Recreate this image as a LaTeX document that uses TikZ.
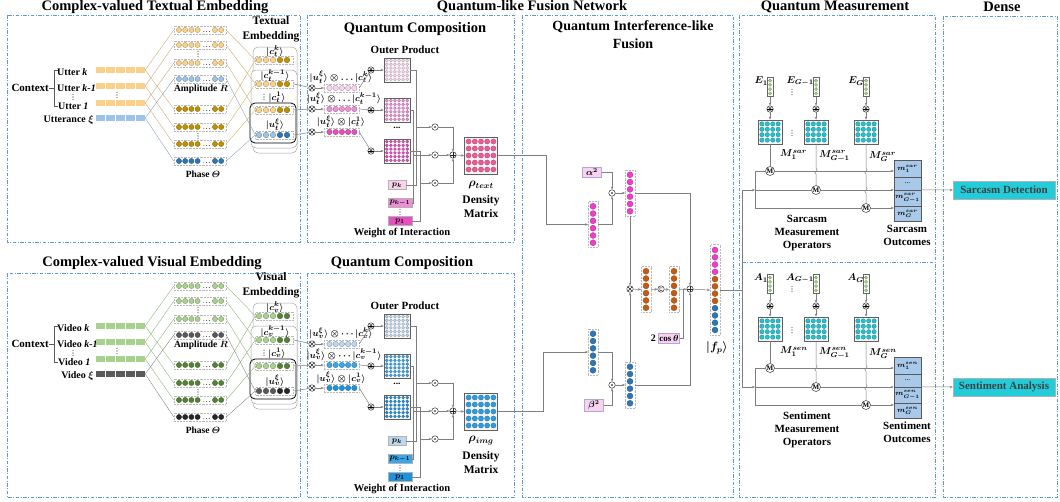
\documentclass[tikz,border=0pt]{standalone}
\usepackage{amsmath}
\usepackage{fontspec}
\setmainfont{Liberation Serif}
\usetikzlibrary{arrows.meta}
\definecolor{frm}{HTML}{5B9BD5}
\definecolor{lnk}{HTML}{7F7F7F}
\definecolor{tL}{HTML}{FBD089}
\definecolor{tX}{HTML}{9DC3E6}
\definecolor{tP}{HTML}{BF9000}
\definecolor{tQ}{HTML}{2E75B6}
\definecolor{vL}{HTML}{A9D18E}
\definecolor{vX}{HTML}{595959}
\definecolor{vP}{HTML}{548235}
\definecolor{vQ}{HTML}{262626}
\definecolor{tc1}{HTML}{FAD4EE}
\definecolor{tc2}{HTML}{EE8FD6}
\definecolor{tc3}{HTML}{E64FBE}
\definecolor{tcm}{HTML}{EE5A92}
\definecolor{vc1}{HTML}{BDD7EE}
\definecolor{vc2}{HTML}{3AA6E8}
\definecolor{vc3}{HTML}{1E93DB}
\definecolor{vcm}{HTML}{2E9BE0}
\definecolor{mag}{HTML}{F03CC8}
\definecolor{orn}{HTML}{C55A11}
\definecolor{bluD}{HTML}{2E75B6}
\definecolor{grnL}{HTML}{A9D18E}
\definecolor{grnD}{HTML}{548235}
\definecolor{cyn}{HTML}{1FC3CE}
\definecolor{outc}{HTML}{A9C9EA}
\definecolor{dns}{HTML}{22CCD8}
\definecolor{wbox}{HTML}{F8D3EE}
\definecolor{lav}{HTML}{B4A7D6}

\newcommand\mkVd[2]{%
  \foreach \k in {-2.6,0,2.6}{\fill[black!85] (#1,{#2+\k}) circle (0.55);}%
}
\newcommand\mkBar[3]{%
  \node[fill=#3, inner sep=0pt, minimum width=49, minimum height=5.5] (#1) at (120.5,#2) {};
  \foreach \k in {1,...,4}{\draw[white, line width=0.9pt] ({96+\k*9.8},{#2-2.75}) -- ({96+\k*9.8},{#2+2.75});}%
}
\newcommand\mkRow[3]{%
  \node[dotbox, minimum width=52, minimum height=7.5] (#1) at (200,#2) {};
  \foreach \k in {179,185.2,191.4,197.6,215,221.2}{\path[fill=#3, draw=#3!65!black, line width=0.3pt] (\k,#2) circle (2.6);}%
  \foreach \k in {203.8,206.6,209.4}{\fill[black!75] (\k,{#2+1.5}) circle (0.45);}%
}
\newcommand\mkSvec[4]{%
  \node[dotbox, minimum width=38, minimum height=7.5] (#1) at (274.5,#2) {};
  \foreach \k in {259,266,273}{\path[fill=#3, draw=#3!65!black, line width=0.3pt] (\k,#2) circle (2.8);}%
  \foreach \k in {280,287}{\path[fill=#4, draw=#4!65!black, line width=0.3pt] (\k,#2) circle (2.8);}%
}
\newcommand\mkQvec[3]{%
  \node[dotbox, minimum width=35, minimum height=7.5] (#1) at (341.5,#2) {};
  \foreach \k in {0,...,4}{\path[fill=#3, draw=#3!65!black, line width=0.3pt] ({329.5+6.2*\k},#2) circle (2.7);}%
}
\newcommand\mkQmat[3]{%
  \node[matbox, minimum width=26, minimum height=24] (#1) at (397,#2) {};
  \foreach \i in {0,...,5}{\foreach \j in {0,...,5}{\path[fill=#3, draw=#3!65!black, line width=0.2pt] ({386.75+\i*4.1},{#2-9.4+\j*3.75}) circle (1.5);}}%
}
\newcommand\mkDmat[4]{%
  \node[matbox, minimum width=33, minimum height=37] (#1) at (#2,#3) {};
  \foreach \i in {0,...,4}{\foreach \j in {0,...,4}{\path[fill=#4, draw=#4!70!black, line width=0.25pt] ({#2-12.4+\i*6.2},{#3-14+\j*7}) circle (2.6);}}%
}
\newcommand\mkVcol[4]{%
  \node[dotbox, minimum width=9.5, minimum height=46] (#1) at (#2,#3) {};
  \foreach \k in {0,...,5}{\path[fill=#4, draw=#4!70!black, line width=0.25pt] (#2,{#3-18.25+\k*7.3}) circle (3);}%
}
\newcommand\mkEvec[3]{%
  \node[draw=gray!80!black, fill=white, line width=0.5pt, inner sep=0pt, minimum width=6.5, minimum height=19] (#1) at (#2,#3) {};
  \foreach \k in {0,...,3}{\path[fill=grnL, draw=grnD, line width=0.2pt] (#2,{#3-6.3+\k*4.2}) circle (1.6);}%
}
\newcommand\mkMmat[3]{%
  \node[matbox, minimum width=24, minimum height=24] (#1) at (#2,#3) {};
  \foreach \i in {0,...,3}{\foreach \j in {0,...,3}{\path[fill=cyn, draw=cyn!60!black, line width=0.2pt] ({#2-8.1+\i*5.4},{#3-8.1+\j*5.4}) circle (2.2);}}%
}

\newcommand\EmbBlock[5]{%
\begin{scope}[shift={(0,#2)}]
 \node[lbl11, anchor=east] (#1ctx) at (49,88) {Context};
 \draw[brk] (#1ctx.east) -- ++(5,0);
 \draw[brk] (57.5,70) -- (54,70) -- (54,106) -- (57.5,106);
 \node[lbl, anchor=west] (#1u1) at (57,72) {#3 \textit{k}};
 \node[lbl, anchor=west] (#1u2) at (57,88) {#3 \textit{k-1}};
 \mkVd{73}{97}
 \node[lbl, anchor=west] (#1u3) at (58,106) {#3 \textit{1}};
 \node[lbl, anchor=east] (#1ux) at (94,120) {#4 $\xi$};
 \mkBar{#1b1}{70}{#1L}
 \mkBar{#1b2}{86}{#1L}
 \mkBar{#1b3}{103}{#1L}
 \mkBar{#1bx}{118}{#1X}
 \mkVd{117}{95}
 \mkRow{#1a1}{30}{#1L}
 \mkRow{#1a2}{45}{#1L}
 \mkRow{#1a3}{63}{#1L}
 \mkRow{#1a4}{79}{#1X}
 \mkRow{#1h1}{109}{#1P}
 \mkRow{#1h2}{127}{#1P}
 \mkRow{#1h3}{144}{#1P}
 \mkRow{#1h4}{161}{#1Q}
 \mkVd{198}{54}
 \mkVd{198}{136}
 \node[lbl9] (#1amp) at (201,89) {Amplitude $R$};
 \node[lbl9] (#1ph) at (203,174) {Phase $\varTheta$};
 \node[stk, minimum width=44, minimum height=106] (#1st1) at (275,100) {};
 \node[stk, minimum width=46, minimum height=78] (#1st2) at (274,109) {};
 \node[stk, draw=black, line width=0.8pt, minimum width=46, minimum height=40] (#1st3) at (273,123) {};
 \mkSvec{#1s1}{60}{#1L}{#1P}
 \mkSvec{#1s2}{84}{#1L}{#1P}
 \mkSvec{#1s3}{110}{#1L}{#1P}
 \mkSvec{#1s4}{135}{#1X}{#1Q}
 \node[mlab] (#1l1) at (275,51.5) {$|c_#1^k\rangle$};
 \node[mlab] (#1l2) at (275,75.5) {$|c_#1^{k-1}\rangle$};
 \mkVd{264}{97}
 \node[mlab] (#1l3) at (277,97) {$|c_#1^1\rangle$};
 \node[mlab] (#1l4) at (275,124.5) {$|u_#1^\xi\rangle$};
 \node[sttl, align=center] (#1stt) at (271,29) {#5\\Embedding};
 \foreach \i in {1,2,3}{%
   \draw[#1ln] (#1b\i.east) -- (#1a\i.west);
   \draw[#1ln] (#1b\i.east) -- (#1h\i.west);
   \draw[#1ln] (#1a\i.east) -- (#1s\i.west);
   \draw[#1ln2] (#1h\i.east) -- (#1s\i.west);}
 \draw[#1lnx] (#1bx.east) -- (#1a4.west);
 \draw[#1lnx] (#1bx.east) -- (#1h4.west);
 \draw[#1lnx] (#1a4.east) -- (#1s4.west);
 \draw[#1lnx] (#1h4.east) -- (#1s4.west);
\end{scope}}

\newcommand\QCBlock[4]{%
\begin{scope}[shift={(0,#2)}]
 \node[lbl11] (#1op) at (405,50) {Outer Product};
 \node[opx] (#1x1) at (312,88) {};
 \node[opx] (#1x2) at (312,109) {};
 \node[opx] (#1x3) at (312,132) {};
 \node[mlab] (#1lx1) at (341,77) {$|u_#1^\xi\rangle\otimes#4|c_#1^k\rangle$};
 \node[mlab] (#1lx2) at (344,98.5) {$|u_#1^\xi\rangle\otimes#4|c_#1^{k-1}\rangle$};
 \node[mlab] (#1lx3) at (341,121.5) {$|u_#1^\xi\rangle\otimes|c_#1^1\rangle$};
 \mkQvec{#1q1}{88}{#1c1}
 \mkQvec{#1q2}{109}{#1c2}
 \mkQvec{#1q3}{132}{#1c3}
 \node[ops] (#1o1) at (371,70) {};
 \node[ops] (#1o2) at (371,110) {};
 \node[ops] (#1o3) at (371,151) {};
 \mkQmat{#1m1}{70}{#1c1}
 \mkQmat{#1m2}{110}{#1c2}
 \mkQmat{#1m3}{151}{#1c3}
 \node[lbl9] (#1md) at (397,128) {...};
 \node[pbox, fill=#1c1, minimum width=18] (#1p1) at (397,185) {$p_k$};
 \node[pbox, fill=#1c2, minimum width=24] (#1p2) at (400,203) {$p_{k-1}$};
 \mkVd{400}{212}
 \node[pbox, fill=#1c3, minimum width=24] (#1p3) at (400,221) {$p_1$};
 \node[lbl105] (#1wi) at (402,233) {Weight of Interaction};
 \node[opd] (#1d1) at (435,127) {};
 \node[opd] (#1d2) at (435,155) {};
 \node[opd] (#1d3) at (435,183) {};
 \node[opp] (#1pl) at (453,155) {};
 \mkDmat{#1rho}{481}{155.5}{#1cm}
 \node[rlab] (#1rl) at (481,185) {$\rho_{#3}$};
 \node[lbl115, align=center] (#1dl) at (481,206.5) {Density\\Matrix};
 \coordinate (#1j1) at (416,127);
 \coordinate (#1j2) at (413,155);
 \coordinate (#1j3) at (420,183);
 \draw[arr] (#1x1) -- (#1q1.west);
 \draw[arr] (#1x2) -- (#1q2.west);
 \draw[arr] (#1x3) -- (#1q3.west);
 \draw[conn] (#1q1.east) -- (#1o1);
 \draw[conn] (#1q2.east) -- (#1o2);
 \draw[conn] (#1q3.east) -- (#1o3);
 \draw[arr] (#1o1) -- (#1m1.west);
 \draw[arr] (#1o2) -- (#1m2.west);
 \draw[arr] (#1o3) -- (#1m3.west);
 \draw[conn] (#1m1.east) -- (#1m1.east -| #1j1) |- (#1p1.east);
 \draw[conn] (#1m2.east) -- (#1m2.east -| #1j2) |- (#1p2.east);
 \draw[conn] (#1m3.east) -- (#1m3.east -| #1j3) |- (#1p3.east);
 \draw[arr] (#1j1) -- (#1d1);
 \draw[arr] (#1j2) -- (#1d2);
 \draw[arr] (#1j3) -- (#1d3);
 \draw[arr] (#1d1) -| (#1pl);
 \draw[arr] (#1d3) -| (#1pl);
 \draw[arr] (#1d2) -- (#1pl);
 \draw[arr] (#1pl) -- (#1rho.west);
\end{scope}}

\newcommand\MBlock[6]{%
\begin{scope}[shift={(0,#2)}]
 \mkEvec{#1e1}{770}{87}
 \mkEvec{#1e2}{816}{87}
 \mkEvec{#1e3}{866}{87}
 \node[mlab10, anchor=east] (#1el1) at (768,81) {$#3_1$};
 \node[mlab10, anchor=east] (#1el2) at (814,81) {$#3_{G-1}$};
 \node[mlab10, anchor=east] (#1el3) at (864,81) {$#3_G$};
 \mkVd{792}{92}
 \node[ops] (#1a1) at (770,109) {};
 \node[ops] (#1a2) at (816,109) {};
 \node[ops] (#1a3) at (866,109) {};
 \mkMmat{#1M1}{770}{132}
 \mkMmat{#1M2}{816}{132}
 \mkMmat{#1M3}{866}{132}
 \mkVd{792}{133}
 \node[mlab10, anchor=west] (#1ml1) at (780,155) {$M_1^{#4}$};
 \node[mlab10, anchor=west] (#1ml2) at (819,156) {$M_{G-1}^{#4}$};
 \node[mlab10, anchor=west] (#1ml3) at (869,157) {$M_G^{#4}$};
 \node[opm] (#1c1) at (770,171) {M};
 \node[opm] (#1c2) at (816,190) {M};
 \node[opm] (#1c3) at (866,208) {M};
 \node[ocell, minimum height=17] (#1o1) at (907.5,168.5) {$m_1^{#4}$};
 \node[ocell, minimum height=13] (#1o2) at (907.5,183.5) {...};
 \node[ocell, minimum height=16] (#1o3) at (907.5,198) {$m_{G-1}^{#4}$};
 \node[ocell, minimum height=15] (#1o4) at (907.5,213.5) {$m_G^{#4}$};
 \coordinate (#1t0) at (742,190);
 \coordinate (#1t1) at (755,171);
 \coordinate (#1t2) at (755,190);
 \coordinate (#1t3) at (755,208);
 \draw[arr] (#1e1) -- (#1a1);
 \draw[arr] (#1e2) -- (#1a2);
 \draw[arr] (#1e3) -- (#1a3);
 \draw[arr] (#1a1) -- (#1M1);
 \draw[arr] (#1a2) -- (#1M2);
 \draw[arr] (#1a3) -- (#1M3);
 \draw[conn] (#1M1) -- (#1c1);
 \draw[conn] (#1M2.south) -- (816,168) .. controls (820,169.5) and (812,172.5) .. (816,174) -- (#1c2);
 \draw[conn] (#1M3.south) -- (866,168) .. controls (870,169.5) and (862,172.5) .. (866,174) -- (866,187) .. controls (870,188.5) and (862,191.5) .. (866,193) -- (#1c3);
 \draw[arr] (#1t0) -- (#1t2);
 \draw[conn] (#1t1) -- (#1t3);
 \draw[conn] (#1t1) -- (#1c1);
 \draw[conn] (#1t2) -- (#1c2);
 \draw[conn] (#1t3) -- (#1c3);
 \draw[arr] (#1c1) -- (#1c1 -| #1o1.west);
 \draw[arr] (#1c2) -- (#1c2 -| #1o3.west);
 \draw[arr] (#1c3) -- (#1c3 -| #1o4.west);
 \node[lbl11, align=center] (#1mo) at (807,233) {#5\\Measurement\\Operators};
 \node[lbl11, align=center] (#1oc) at (907,235.5) {#5\\Outcomes};
 \node[dbox] (#1res) at (1004,190) {#6};
 \draw[arr] (#1o3.north east) -- (#1res.west);
\end{scope}}

\begin{document}
\begin{tikzpicture}[x=1pt,y=-1pt,
  dframe/.style={draw=frm, line width=0.7pt, dash pattern=on 3.5pt off 1.5pt on 1pt off 1.5pt},
  conn/.style={draw=lnk, line width=0.5pt},
  arr/.style={conn, -{Stealth[length=3pt,width=2.4pt]}},
  brk/.style={draw=gray!70!black, line width=0.5pt},
  dotbox/.style={rectangle, draw=gray!55, densely dotted, line width=0.45pt, inner sep=0pt},
  matbox/.style={rectangle, draw=gray!75!black, fill=gray!8, line width=0.7pt, inner sep=0pt},
  stk/.style={rectangle, draw=gray!70, fill=white, rounded corners=5pt, line width=0.5pt, inner sep=0pt},
  ttl/.style={font=\bfseries\fontsize{14.5}{16}\selectfont, inner sep=0pt},
  lbl/.style={font=\bfseries\boldmath\fontsize{10}{12}\selectfont, inner sep=0pt},
  lbl9/.style={font=\bfseries\boldmath\fontsize{9.5}{11}\selectfont, inner sep=0pt},
  lbl105/.style={font=\bfseries\boldmath\fontsize{10.5}{12}\selectfont, inner sep=0pt},
  lbl11/.style={font=\bfseries\boldmath\fontsize{11}{13}\selectfont, inner sep=0pt},
  lbl115/.style={font=\bfseries\boldmath\fontsize{11.5}{13.5}\selectfont, inner sep=0pt},
  sttl/.style={font=\bfseries\fontsize{11.5}{15}\selectfont, inner sep=0pt},
  mlab/.style={font=\boldmath\fontsize{9.5}{10}\selectfont, inner sep=0pt},
  mlab10/.style={font=\boldmath\fontsize{10}{12}\selectfont, inner sep=0pt},
  rlab/.style={font=\boldmath\fontsize{12}{14}\selectfont, inner sep=0pt},
  pbox/.style={rectangle, draw=gray!60, minimum height=9, inner sep=0pt, font=\boldmath\fontsize{8.5}{9}\selectfont},
  wbx/.style={rectangle, fill=wbox, draw=lav, minimum height=10, minimum width=19, inner sep=1pt, font=\boldmath\fontsize{9}{10}\selectfont},
  ocell/.style={rectangle, draw=gray!70!black, fill=outc, minimum width=27, inner sep=0pt, font=\boldmath\fontsize{7.5}{8}\selectfont},
  dbox/.style={rectangle, fill=dns, draw=gray!60, minimum width=102, minimum height=18, inner sep=0pt, font=\bfseries\fontsize{11}{12}\selectfont, text=black!75},
  opb/.style={circle, draw=black!85, fill=white, inner sep=0pt, minimum size=6.5pt, line width=0.45pt},
  opx/.style={opb, path picture={\draw[black!85, line width=0.45pt] (path picture bounding box.north west) -- (path picture bounding box.south east) (path picture bounding box.north east) -- (path picture bounding box.south west);}},
  opp/.style={opb, path picture={\draw[black!85, line width=0.45pt] (path picture bounding box.north) -- (path picture bounding box.south) (path picture bounding box.east) -- (path picture bounding box.west);}},
  opd/.style={opb, path picture={\fill[black] (path picture bounding box.center) circle (0.9pt);}},
  ops/.style={opb, path picture={\foreach \a in {0,60,120}{\draw[black, line width=0.5pt] ([shift={(\a:2.6pt)}]path picture bounding box.center) -- ([shift={(\a+180:2.6pt)}]path picture bounding box.center);}}},
  opc/.style={opb, path picture={\draw[black!85, line width=0.45pt] ([shift={(40:1.7pt)}]path picture bounding box.center) arc (40:320:1.7pt);}},
  opm/.style={circle, draw=black!85, fill=white, inner sep=0pt, minimum size=9pt, line width=0.45pt, font=\bfseries\fontsize{7}{7}\selectfont},
  tln/.style={draw=tL!80!black, line width=0.35pt},
  tln2/.style={draw=tP!70, line width=0.35pt},
  tlnx/.style={draw=tX!80!black, line width=0.35pt},
  vln/.style={draw=vL!85!black, line width=0.35pt},
  vln2/.style={draw=vP!70, line width=0.35pt},
  vlnx/.style={draw=vX!80, line width=0.35pt}]
\fill[white] (0,0) rectangle (1060,501);
\path[use as bounding box] (0,0) rectangle (1060,501);

% frames
\draw[dframe] (7,15) rectangle (300,242);
\draw[dframe] (307,15) rectangle (514,242);
\draw[dframe] (7,273) rectangle (300,497);
\draw[dframe] (307,273) rectangle (514,497);
\draw[dframe] (522,15) rectangle (733,497);
\draw[dframe] (739,15) rectangle (935,497);
\draw[dframe] (742,262) -- (935,262);
\draw[dframe] (943,16) rectangle (1057,497);

% titles
\node[ttl] (tTE) at (155,7) {Complex-valued Textual Embedding};
\node[ttl] (tQF) at (532,7) {Quantum-like Fusion Network};
\node[ttl] (tQM) at (835,7) {Quantum Measurement};
\node[ttl] (tDN) at (1002,7) {Dense};
\node[ttl] (tVE) at (152,263) {Complex-valued Visual Embedding};
\node[ttl] (tQC2) at (402,263) {Quantum Composition};
\node[ttl] (tQC1) at (415,29) {Quantum Composition};
\node[ttl, font=\bfseries\fontsize{14}{18}\selectfont, align=center] (tQI) at (633,35) {Quantum Interference-like\\Fusion};

\EmbBlock{t}{0}{Utter}{Utterance}{Textual}
\EmbBlock{v}{256}{Video}{Video}{Visual}
\QCBlock{t}{0}{text}{\dots}
\QCBlock{v}{256}{img}{\cdots}

\draw[conn] (ts2.east) -- (tx1);
\draw[conn] (ts3.east) -- (tx2);
\draw[conn] (ts4.east) -- (tx3);
\draw[conn] (vs2.east) -- (vx1);
\draw[conn] (vs3.east) -- (vx2);
\draw[conn] (vs4.east) -- (vx3);

% fusion
\mkVcol{fp1}{593}{224.5}{mag}
\mkVcol{fp2}{630}{193}{mag}
\mkVcol{fb1}{593}{352}{bluD}
\mkVcol{fb2}{630}{385}{bluD}
\mkVcol{fo1}{646}{289.5}{orn}
\mkVcol{fo2}{674}{289.5}{orn}
\node[wbx] (fal) at (592,172) {$\alpha^2$};
\node[wbx] (fbe) at (594,405) {$\beta^2$};
\node[opd] (fd1) at (612,193) {};
\node[opd] (fd2) at (612,385) {};
\node[opx] (fx) at (630,289) {};
\node[opc] (fcj) at (661,289) {};
\node[opp] (fpl) at (690,289) {};
\node[wbx, minimum width=20] (fcos) at (669,338) {$\cos\theta$};
\node[lbl, anchor=east] (f2) at ([xshift=-2pt]fcos.west) {2};
\node[dotbox, minimum width=9.5, minimum height=91] (ffp) at (715,290) {};
\foreach \k/\c in {0/mag,1/mag,2/mag,3/mag,4/orn,5/orn,6/orn,7/orn,8/bluD,9/bluD,10/bluD,11/bluD}{\path[fill=\c, draw=\c!70!black, line width=0.25pt] (715,{250+\k*7.27}) circle (3);}
\node[rlab] (ffl) at (717,348) {$|f_p\rangle$};
\coordinate (fjn) at (683,289);

\draw[arr] (trho.east) -- ++(48,0) |- (fp1.west);
\draw[arr] (vrho.east) -- ++(45,0) |- (fb1.west);
\draw[arr] (fal.east) -| (fd1.north);
\draw[arr] (fp1.east) -| (fd1.south);
\draw[arr] (fd1) -- (fp2.west);
\draw[arr] (fp2.east) -| (fpl.north);
\draw[arr] (fp2.south) -- (fx.north);
\draw[arr] (fb1.east) -| (fd2.north);
\draw[arr] (fbe.east) -| (fd2.south);
\draw[arr] (fd2) -- (fb2.west);
\draw[arr] (fb2.north) -- (fx.south);
\draw[arr] (fb2.east) -| (fpl.south);
\draw[arr] (fx) -- (fo1.west);
\draw[arr] (fo1.east) -- (fcj);
\draw[arr] (fcj) -- (fo2.west);
\draw[arr] (fo2.east) -- (fpl);
\draw[conn] (fcos.east) -| (fjn);
\draw[arr] (fpl) -- (ffp.west);

% measurement
\MBlock{sa}{0}{E}{sar}{Sarcasm}{Sarcasm Detection}
\MBlock{se}{197}{A}{sen}{Sentiment}{Sentiment Analysis}
\draw[conn] (sat0) -- (set0);
\draw[conn] (ffp.east) -- (ffp.east -| sat0);
\end{tikzpicture}
\end{document}
